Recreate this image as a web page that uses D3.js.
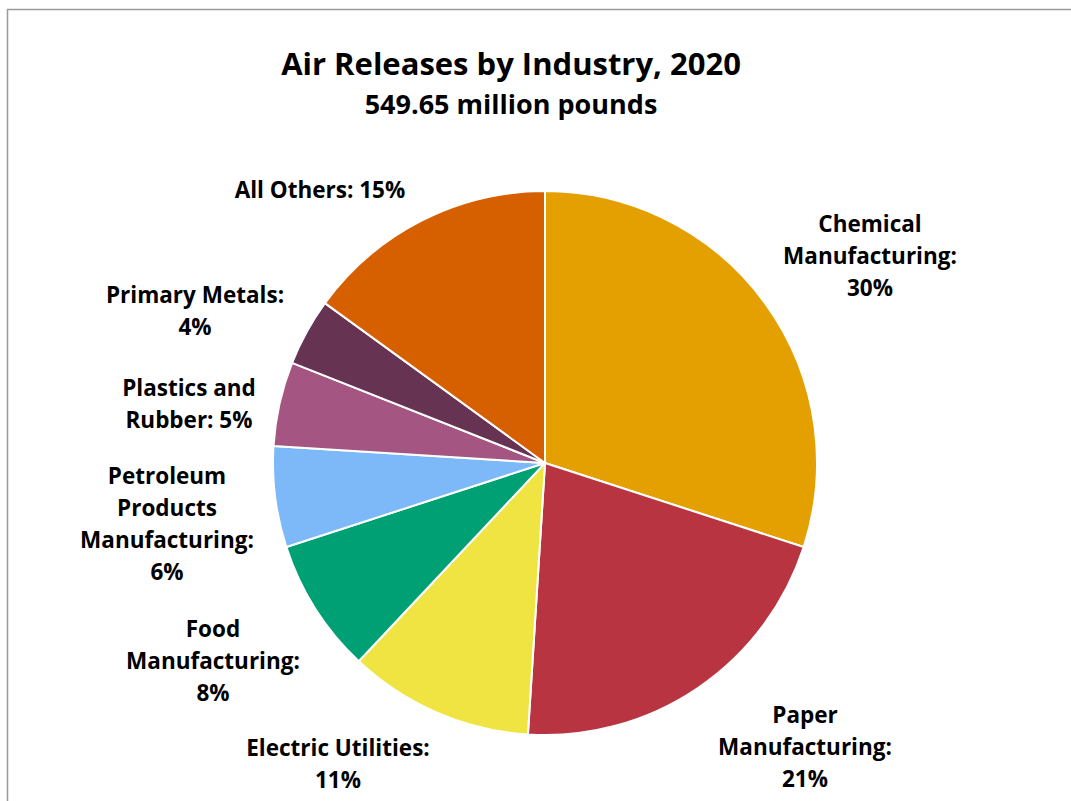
<!DOCTYPE html>
<html>
<head>
<meta charset="utf-8">
<script src="https://cdn.jsdelivr.net/npm/d3@7"></script>
<style>
  html, body { margin: 0; padding: 0; background: #fff; }
  svg { display: block; }
  text { font-family: "Open Sans", "Lato", sans-serif; font-weight: 700; fill: #000; }
</style>
</head>
<body>
<svg id="chart" width="1071" height="801"></svg>
<script>
// Air releases by industry, share of total (percent)
const categories = [
  "Chemical Manufacturing",
  "Paper Manufacturing",
  "Electric Utilities",
  "Food Manufacturing",
  "Petroleum Products Manufacturing",
  "Plastics and Rubber",
  "Primary Metals",
  "All Others"
];
const shares = [30, 21, 11, 8, 6, 5, 4, 15];
const colors = ["#E4A000", "#B83441", "#F0E442", "#00A075", "#7DB8F8", "#A55581", "#663352", "#D65F00"];

// Label text lines per slice, and where each label block is centred
const labelLines = [
  ["Chemical", "Manufacturing:", "30%"],
  ["Paper", "Manufacturing:", "21%"],
  ["Electric Utilities:", "11%"],
  ["Food", "Manufacturing:", "8%"],
  ["Petroleum", "Products", "Manufacturing:", "6%"],
  ["Plastics and", "Rubber: 5%"],
  ["Primary Metals:", "4%"],
  ["All Others: 15%"]
];
const labelAnchors = [
  [870, 224], [805, 715], [338, 748], [213, 629],
  [167, 476], [189, 388], [195, 295], [320, 190]
];

const svg = d3.select("#chart");

// chart area frame
svg.append("rect")
  .attr("x", 7.5).attr("y", 9.5)
  .attr("width", 1100).attr("height", 900)
  .attr("fill", "none")
  .attr("stroke", "#9a9a9a")
  .attr("stroke-width", 1.5);

// titles
svg.append("text")
  .attr("x", 511).attr("y", 64)
  .attr("dy", "0.35em")
  .attr("text-anchor", "middle")
  .style("font-size", "31px")
  .text("Air Releases by Industry, 2020");
svg.append("text")
  .attr("x", 511).attr("y", 105)
  .attr("dy", "0.35em")
  .attr("text-anchor", "middle")
  .style("font-size", "27px")
  .text("549.65 million pounds");

const cx = 545, cy = 463, radius = 272;

const pie = d3.pie().sort(null).value(d => d.value);
const data = categories.map((c, i) => ({ name: c, value: shares[i], color: colors[i] }));
const arc = d3.arc().innerRadius(0).outerRadius(radius);

const g = svg.append("g").attr("transform", `translate(${cx},${cy})`);
g.selectAll("path")
  .data(pie(data))
  .join("path")
  .attr("d", arc)
  .attr("fill", d => d.data.color)
  .attr("stroke", "#fff")
  .attr("stroke-width", 2)
  .attr("stroke-linejoin", "round");

// data labels
const lineGap = 32;
data.forEach((d, i) => {
  const [lx, ly] = labelAnchors[i];
  const t = svg.append("text")
    .attr("text-anchor", "middle")
    .style("font-size", "22.5px");
  labelLines[i].forEach((line, k) => {
    t.append("tspan")
      .attr("x", lx)
      .attr("y", ly + k * lineGap)
      .attr("dy", "0.35em")
      .text(line);
  });
});
</script>
</body>
</html>
